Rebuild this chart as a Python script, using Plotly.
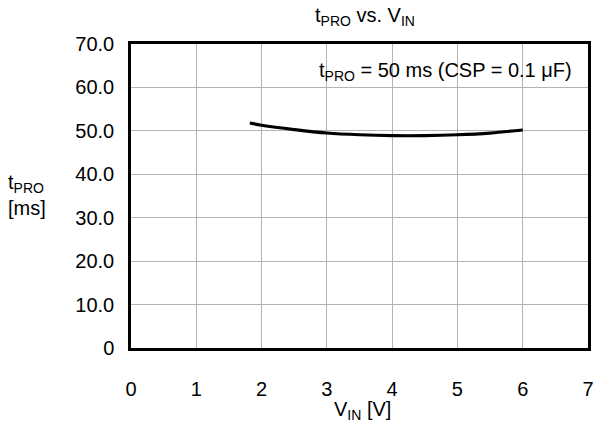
import plotly.graph_objects as go

vin = [1.82, 2.0, 2.5, 3.0, 3.5, 4.0, 4.5, 5.0, 5.5, 6.0]
tpro = [51.8, 51.3, 50.3, 49.5, 49.1, 48.9, 48.9, 49.1, 49.5, 50.2]

x_ticks = [0, 1, 2, 3, 4, 5, 6, 7]
y_ticks = [0, 10, 20, 30, 40, 50, 60, 70]
y_tick_labels = ["0", "10.0", "20.0", "30.0", "40.0", "50.0", "60.0", "70.0"]

font = "Liberation Sans, Arial, sans-serif"

fig = go.Figure()
fig.add_trace(go.Scatter(x=vin, y=tpro, mode="lines", line=dict(color="black", width=3.2, shape="spline"),
                         showlegend=False, hoverinfo="skip"))

W, H = 597, 427
L, R, T, B = 131, 9, 44, 79
pw, ph = W - L - R, H - T - B

def px(x):
    return (x - L) / pw

def py(y):
    return (H - B - y) / ph

fig.update_layout(
    width=W, height=H,
    margin=dict(l=L, r=R, t=T, b=B, autoexpand=False),
    paper_bgcolor="white", plot_bgcolor="white",
    font=dict(family=font, size=20, color="black"),
    xaxis=dict(range=[0, 7], tickvals=x_ticks, showgrid=True, gridcolor="#b4b4b4", gridwidth=1,
               showline=True, linecolor="black", linewidth=2.5, mirror=True, ticks="",
               ticklabelstandoff=21, zeroline=False, automargin=False, fixedrange=True),
    yaxis=dict(range=[0, 70], tickvals=y_ticks, ticktext=y_tick_labels, showgrid=True, gridcolor="#b4b4b4",
               gridwidth=1, showline=True, linecolor="black", linewidth=2.5, mirror=True, ticks="",
               ticklabelstandoff=10, zeroline=False, automargin=False, fixedrange=True),
    annotations=[
        dict(text="t<sub>PRO</sub> vs. V<sub>IN</sub>", xref="paper", yref="paper", x=px(365), y=py(17),
             xanchor="center", yanchor="middle", showarrow=False, font=dict(size=20)),
        dict(text="V<sub>IN</sub> [V]", xref="paper", yref="paper", x=px(362), y=py(410),
             xanchor="center", yanchor="middle", showarrow=False, font=dict(size=20)),
        dict(text="t<sub>PRO</sub><br>[ms]", xref="paper", yref="paper", x=px(6), y=py(195), xanchor="left",
             yanchor="middle", showarrow=False, align="left", font=dict(size=20)),
        dict(text="t<sub>PRO</sub> = 50 ms (CSP = 0.1 μF)", xref="paper", yref="paper", x=px(574), y=py(72),
             xanchor="right", yanchor="middle", showarrow=False, font=dict(size=20)),
    ],
)

fig.write_html("out.html", config={"displayModeBar": False},
               post_script="document.body.style.margin='0';")
